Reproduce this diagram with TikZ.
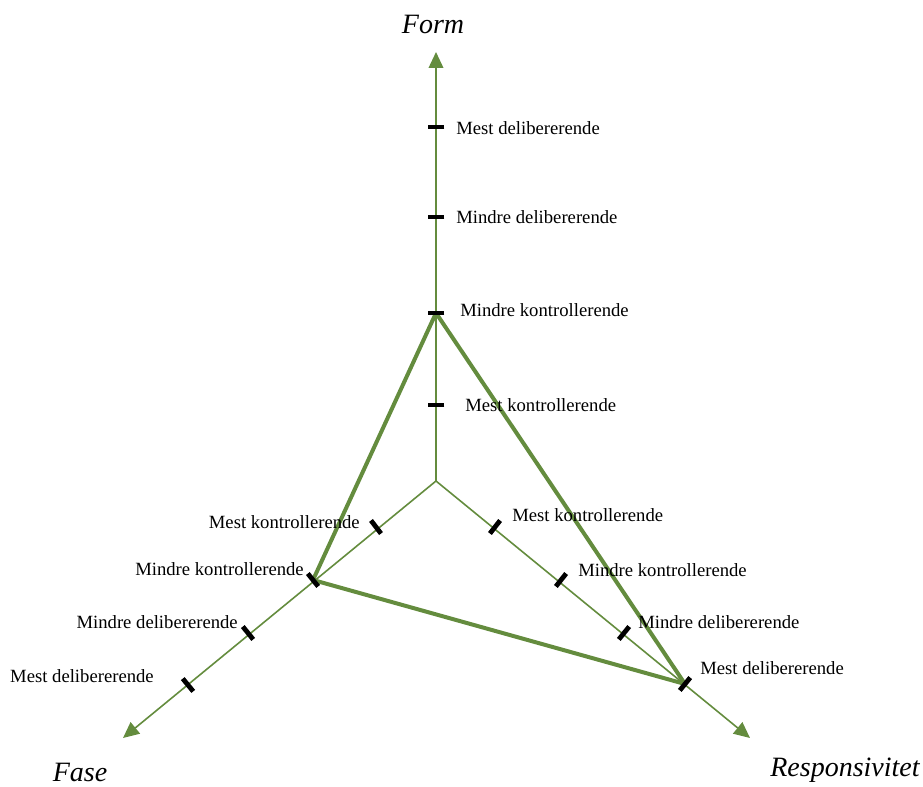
\documentclass[tikz,border=0pt]{standalone}
\usepackage{fontspec}
\setmainfont{Liberation Serif}
\usetikzlibrary{calc,arrows.meta}
\definecolor{axgreen}{RGB}{100,140,62}
\begin{document}
\begin{tikzpicture}[x=0.75pt,y=-0.75pt,
  axis/.style={draw=axgreen,line width=1.2pt,-{Triangle[length=12pt,width=11pt]}},
  tri/.style={draw=axgreen,line width=3pt,line join=round},
  tickmark/.style={draw=black,line width=3.6pt},
  lbl/.style={inner sep=0pt,font=\fontsize{14}{16}\selectfont},
  ttl/.style={inner sep=0pt,font=\fontsize{21}{24}\selectfont\itshape}]
\useasboundingbox (0,0) rectangle (923,787);
\coordinate (c) at (436,481);
\coordinate (up) at (436,52);
\coordinate (lt) at (123,738);
\coordinate (rt) at (750,738);
% ticks
\coordinate (u1) at (436,127);
\coordinate (u2) at (436,217);
\coordinate (u3) at (436,313);
\coordinate (u4) at (436,405);
\coordinate (l1) at (376,527);
\coordinate (l2) at (313,580);
\coordinate (l3) at (248,633);
\coordinate (l4) at (188,685);
\coordinate (r1) at (495,527);
\coordinate (r2) at (561,580);
\coordinate (r3) at (624,633);
\coordinate (r4) at (685,684);
\draw[axis] (c) -- (up);
\draw[axis] (c) -- (lt);
\draw[axis] (c) -- (rt);
\draw[tri] (u3) -- (l2) -- (r4) -- cycle;
\foreach \t in {u1,u2,u3,u4,l1,l2,l3,l4,r1,r2,r3,r4}
  \draw[tickmark] ($(\t)!6.2pt!90:(c)$) -- ($(\t)!6.2pt!-90:(c)$);
% labels
\node[lbl,anchor=west] (tu1) at (456,128) {Mest delibererende};
\node[lbl,anchor=west] (tu2) at (456,217) {Mindre delibererende};
\node[lbl,anchor=west] (tu3) at (460,310) {Mindre kontrollerende};
\node[lbl,anchor=west] (tu4) at (465,405) {Mest kontrollerende};
\node[lbl,anchor=east] (tl1) at (360,522) {Mest kontrollerende};
\node[lbl,anchor=east] (tl2) at (304,569) {Mindre kontrollerende};
\node[lbl,anchor=east] (tl3) at (238,622) {Mindre delibererende};
\node[lbl,anchor=east] (tl4) at (154,676) {Mest delibererende};
\node[lbl,anchor=west] (tr1) at (512,515) {Mest kontrollerende};
\node[lbl,anchor=west] (tr2) at (578,570) {Mindre kontrollerende};
\node[lbl,anchor=west] (tr3) at (638,622) {Mindre delibererende};
\node[lbl,anchor=west] (tr4) at (700,668) {Mest delibererende};
\node[ttl] (form) at (433,24) {Form};
\node[ttl] (fase) at (80,772) {Fase};
\node[ttl] (resp) at (845,770) {Responsivitet};
\end{tikzpicture}
\end{document}
